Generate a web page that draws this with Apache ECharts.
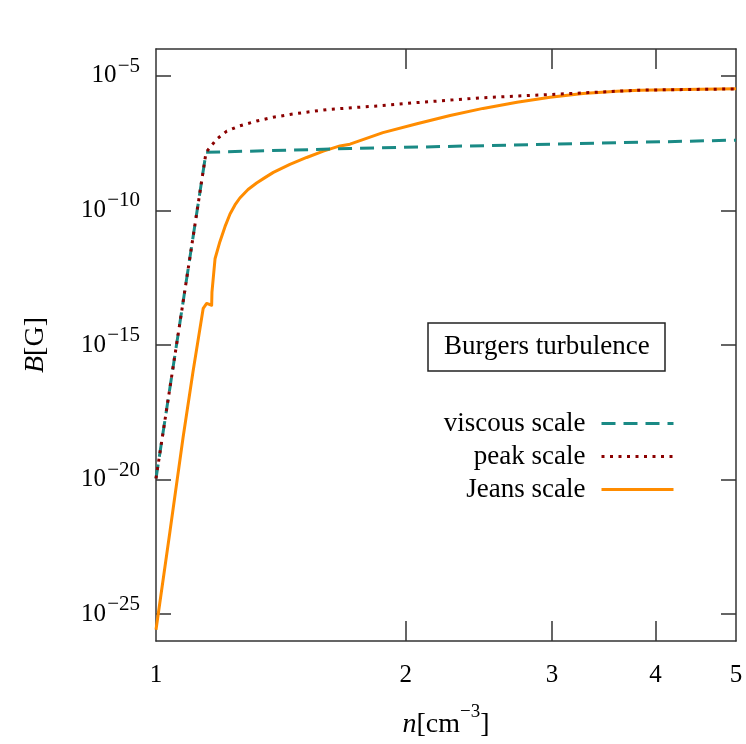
<!DOCTYPE html>
<html>
<head>
<meta charset="utf-8">
<script src="https://cdn.jsdelivr.net/npm/echarts@6/dist/echarts.min.js"></script>
<style>html,body{margin:0;padding:0;background:#fff;}#c{width:746px;height:744px;}</style>
</head>
<body>
<div id="c"></div>
<script>
// Data (n in cm^-3, B in Gauss)
var viscousN = [1.0, 1.149, 1.713, 2.985, 5.0];
var viscousB = [1.1e-20, 1.45e-8, 2.0e-8, 2.9e-8, 4.1e-8];

var peakN = [1.0, 1.149, 1.165, 1.183, 1.217, 1.262, 1.322, 1.384, 1.450, 1.519, 1.606, 1.727, 1.877, 2.063, 2.262, 2.478, 2.723, 2.985, 3.270, 3.593, 3.830, 4.316, 5.0];
var peakB = [1.1e-20, 1.45e-8, 2.45e-8, 4.4e-8, 8.9e-8, 1.4e-7, 2.1e-7, 2.9e-7, 3.7e-7, 4.5e-7, 5.6e-7, 6.6e-7, 7.9e-7, 1.02e-6, 1.26e-6, 1.55e-6, 1.78e-6, 2.04e-6, 2.34e-6, 2.69e-6, 2.95e-6, 3.1e-6, 3.3e-6];

var jeansN = [1.0, 1.0396, 1.0778, 1.108, 1.140, 1.151, 1.167, 1.168, 1.178, 1.194, 1.211, 1.228, 1.245, 1.262, 1.291, 1.322, 1.353, 1.385, 1.450, 1.519, 1.591, 1.666, 1.713, 1.877, 2.063, 2.262, 2.478, 2.723, 2.985, 3.270, 3.593, 3.830, 4.316, 5.0];
var jeansB = [2.6e-26, 1.2e-22, 3.5e-19, 1.0e-16, 2.3e-14, 3.5e-14, 3.0e-14, 9.3e-14, 1.6e-12, 6.9e-12, 2.5e-11, 7.4e-11, 1.6e-10, 2.9e-10, 6.0e-10, 1.05e-9, 1.66e-9, 2.6e-9, 5.2e-9, 9.3e-9, 1.6e-8, 2.5e-8, 2.9e-8, 7.8e-8, 1.66e-7, 3.4e-7, 6.2e-7, 1.05e-6, 1.6e-6, 2.2e-6, 2.7e-6, 2.95e-6, 3.1e-6, 3.3e-6];

var seriesNames = ['viscous scale', 'peak scale', 'Jeans scale'];
var xTickLabels = [1, 2, 3, 4, 5];
var yTickExponents = [-25, -20, -15, -10, -5];
var xRange = [1, 5];
var yExpRange = [-26, -4];
var boxTitle = 'Burgers turbulence';

function toLog(ns, bs) {
  return ns.map(function (n, i) { return [Math.log10(n), Math.log10(bs[i])]; });
}

var FONT = 'Liberation Serif';
var AX = '#333';
var xTickPos = xTickLabels.map(function (v) { return Math.log10(v); });
var xMin = Math.log10(xRange[0]), xMax = Math.log10(xRange[1]);

var axisLineStyle = { show: true, onZero: false, lineStyle: { color: AX, width: 1.5 } };

var chart = echarts.init(document.getElementById('c'), null, { renderer: 'canvas' });
chart.setOption({
  backgroundColor: '#fff',
  animation: false,
  title: {
    text: boxTitle,
    left: 428, top: 323,
    padding: [9, 16, 9, 16],
    borderWidth: 1.5, borderColor: '#222',
    textStyle: { fontFamily: FONT, fontSize: 27, fontWeight: 'normal', color: '#000', lineHeight: 30 }
  },
  legend: {
    orient: 'vertical',
    right: 71, top: 410,
    padding: 0,
    align: 'right',
    itemWidth: 72, itemHeight: 14, itemGap: 6,
    selectedMode: false,
    data: seriesNames,
    itemStyle: { opacity: 0 },
    lineStyle: { width: 3 },
    textStyle: { fontFamily: FONT, fontSize: 27, color: '#000', lineHeight: 27, padding: [0, 11, 0, 0] }
  },
  grid: { left: 156, right: 10, top: 49, bottom: 100, containLabel: false },
  xAxis: [{
    type: 'value', min: xMin, max: xMax, position: 'bottom',
    axisLine: axisLineStyle,
    splitLine: { show: false },
    axisTick: { show: true, inside: true, length: 20, customValues: xTickPos.slice(1, 4), lineStyle: { color: AX, width: 1.5 } },
    axisLabel: {
      show: true, margin: 22, customValues: xTickPos,
      fontFamily: FONT, fontSize: 25, color: '#000',
      formatter: function (v) { return String(Math.round(Math.pow(10, v))); }
    },
    name: '{i|n}{t|[cm}{s|−3}{t|]}',
    nameLocation: 'middle', nameGap: 62,
    nameTextStyle: {
      rich: {
        i: { fontFamily: FONT, fontStyle: 'italic', fontSize: 28, color: '#000', lineHeight: 36, verticalAlign: 'bottom' },
        t: { fontFamily: FONT, fontSize: 28, color: '#000', lineHeight: 36, verticalAlign: 'bottom' },
        s: { fontFamily: FONT, fontSize: 19, color: '#000', lineHeight: 36, verticalAlign: 'top' }
      }
    }
  }, {
    type: 'value', min: xMin, max: xMax, position: 'top',
    axisLine: axisLineStyle,
    splitLine: { show: false },
    axisTick: { show: true, inside: true, length: 20, customValues: xTickPos.slice(1, 4), lineStyle: { color: AX, width: 1.5 } },
    axisLabel: { show: false }
  }],
  yAxis: [{
    type: 'value', min: yExpRange[0], max: yExpRange[1], position: 'left',
    axisLine: axisLineStyle,
    splitLine: { show: false },
    axisTick: { show: true, inside: true, length: 15, customValues: yTickExponents, lineStyle: { color: AX, width: 1.5 } },
    axisLabel: {
      show: true, margin: 16, customValues: yTickExponents,
      formatter: function (v) { return '{b|10}{g| }{s|−' + Math.abs(Math.round(v)) + '}'; },
      rich: {
        b: { fontFamily: FONT, fontSize: 25, color: '#000', lineHeight: 40, verticalAlign: 'middle' },
        g: { fontFamily: FONT, fontSize: 5, lineHeight: 40 },
        s: { fontFamily: FONT, fontSize: 21, color: '#000', lineHeight: 40, verticalAlign: 'top' }
      }
    },
    name: '{i|B}{t|[G]}',
    nameLocation: 'middle', nameGap: 106,
    nameTextStyle: {
      rich: {
        i: { fontFamily: FONT, fontStyle: 'italic', fontSize: 28, color: '#000' },
        t: { fontFamily: FONT, fontSize: 28, color: '#000' }
      }
    }
  }, {
    type: 'value', min: yExpRange[0], max: yExpRange[1], position: 'right',
    axisLine: axisLineStyle,
    splitLine: { show: false },
    axisTick: { show: true, inside: true, length: 15, customValues: yTickExponents, lineStyle: { color: AX, width: 1.5 } },
    axisLabel: { show: false }
  }],
  series: [{
    name: seriesNames[0], type: 'line', xAxisIndex: 0, yAxisIndex: 0,
    data: toLog(viscousN, viscousB), symbol: 'none', smooth: false, z: 3,
    color: '#1a8a85',
    lineStyle: { color: '#1a8a85', width: 3, type: [14, 8] }
  }, {
    name: seriesNames[1], type: 'line', xAxisIndex: 0, yAxisIndex: 0,
    data: toLog(peakN, peakB), symbol: 'none', smooth: false, z: 4,
    color: '#8b0000',
    lineStyle: { color: '#8b0000', width: 3, type: [3, 5.5] }
  }, {
    name: seriesNames[2], type: 'line', xAxisIndex: 0, yAxisIndex: 0,
    data: toLog(jeansN, jeansB), symbol: 'none', smooth: false, z: 2,
    color: '#ff8c00',
    lineStyle: { color: '#ff8c00', width: 3, join: 'round' }
  }]
});
</script>
</body>
</html>
